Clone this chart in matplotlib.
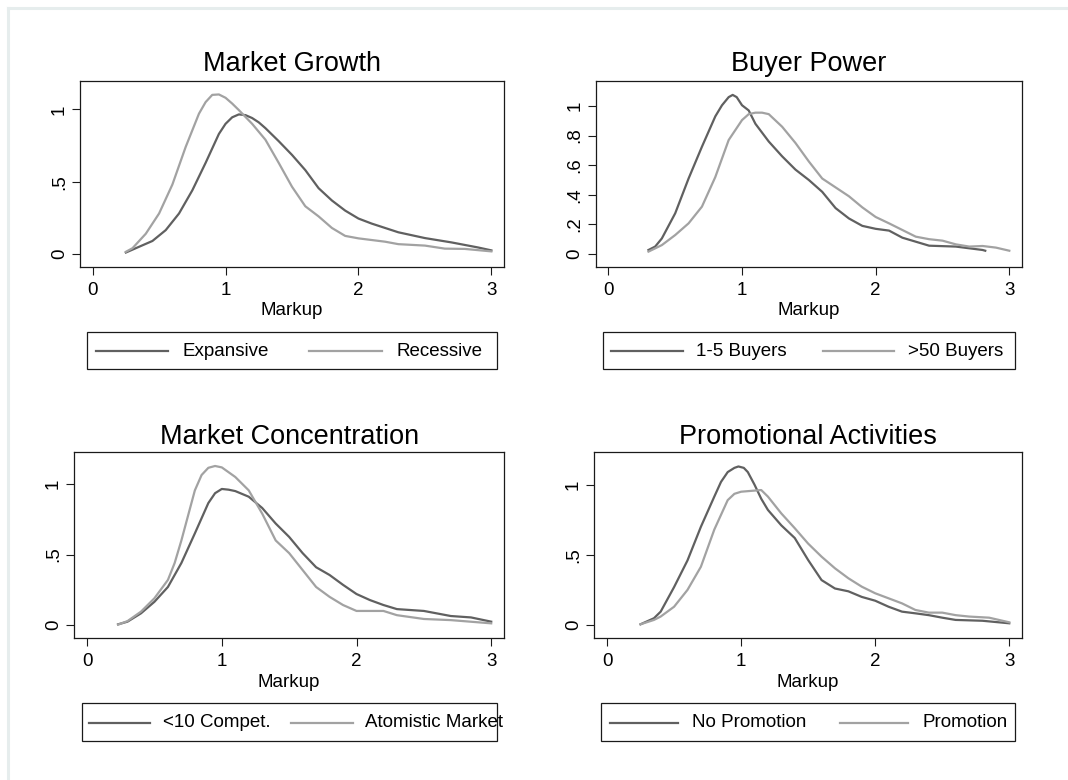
import matplotlib
matplotlib.use('Agg')
import matplotlib.pyplot as plt
from matplotlib.lines import Line2D
from matplotlib.patches import Rectangle

plt.rcParams['font.family'] = ['Liberation Sans', 'DejaVu Sans']

# ---------------------------------------------------------------
# data (kernel densities of markup)
# ---------------------------------------------------------------
# Market Growth
growth_exp_x = [0.25, 0.35, 0.45, 0.55, 0.65, 0.75, 0.85, 0.95, 1.0, 1.05, 1.1, 1.15, 1.2, 1.25, 1.3,
                1.4, 1.5, 1.6, 1.7, 1.8, 1.9, 2.0, 2.1, 2.2, 2.3, 2.5, 2.7, 2.9, 3.0]
growth_exp_y = [0.01, 0.05, 0.09, 0.165, 0.28, 0.44, 0.63, 0.83, 0.90, 0.945, 0.965, 0.96, 0.94, 0.91, 0.87,
                0.78, 0.685, 0.58, 0.455, 0.37, 0.30, 0.245, 0.21, 0.18, 0.15, 0.11, 0.08, 0.045, 0.025]
growth_rec_x = [0.25, 0.3, 0.4, 0.5, 0.6, 0.7, 0.8, 0.85, 0.9, 0.95, 1.0, 1.05, 1.1, 1.2, 1.3,
                1.4, 1.5, 1.6, 1.7, 1.8, 1.9, 2.0, 2.2, 2.3, 2.5, 2.65, 2.8, 3.0]
growth_rec_y = [0.015, 0.04, 0.14, 0.28, 0.48, 0.74, 0.97, 1.05, 1.10, 1.103, 1.08, 1.04, 0.995, 0.90, 0.79,
                0.63, 0.465, 0.33, 0.26, 0.18, 0.125, 0.108, 0.085, 0.068, 0.058, 0.037, 0.035, 0.018]

# Buyer Power
buyer_few_x = [0.3, 0.35, 0.4, 0.5, 0.6, 0.7, 0.8, 0.85, 0.9, 0.93, 0.96, 1.0, 1.05, 1.1, 1.2, 1.3,
               1.4, 1.5, 1.6, 1.7, 1.8, 1.9, 2.0, 2.1, 2.2, 2.3, 2.4, 2.6, 2.8, 2.82]
buyer_few_y = [0.027, 0.05, 0.105, 0.275, 0.51, 0.725, 0.93, 1.005, 1.06, 1.075, 1.06, 1.005, 0.97, 0.88, 0.76, 0.66,
               0.57, 0.50, 0.42, 0.31, 0.24, 0.19, 0.17, 0.158, 0.11, 0.083, 0.056, 0.05, 0.027, 0.022]
buyer_many_x = [0.3, 0.4, 0.5, 0.6, 0.7, 0.8, 0.9, 1.0, 1.05, 1.1, 1.15, 1.2, 1.3, 1.4, 1.5, 1.6,
                1.7, 1.8, 1.9, 2.0, 2.1, 2.2, 2.3, 2.4, 2.5, 2.6, 2.7, 2.8, 2.9, 3.0]
buyer_many_y = [0.016, 0.06, 0.128, 0.207, 0.32, 0.52, 0.77, 0.905, 0.945, 0.955, 0.955, 0.945, 0.86, 0.75, 0.625, 0.51,
                0.45, 0.39, 0.315, 0.25, 0.207, 0.162, 0.117, 0.10, 0.09, 0.065, 0.05, 0.054, 0.043, 0.022]

# Market Concentration
conc_few_x = [0.23, 0.3, 0.4, 0.5, 0.6, 0.7, 0.8, 0.9, 0.95, 1.0, 1.05, 1.1, 1.2, 1.3, 1.4, 1.5,
              1.6, 1.7, 1.8, 1.9, 2.0, 2.1, 2.2, 2.3, 2.5, 2.7, 2.85, 3.0]
conc_few_y = [0.005, 0.024, 0.083, 0.165, 0.27, 0.44, 0.65, 0.865, 0.935, 0.965, 0.96, 0.95, 0.91, 0.83, 0.72, 0.625,
              0.51, 0.41, 0.355, 0.285, 0.22, 0.177, 0.142, 0.113, 0.10, 0.064, 0.054, 0.024]
conc_atom_x = [0.23, 0.3, 0.4, 0.5, 0.6, 0.65, 0.7, 0.8, 0.85, 0.9, 0.95, 1.0, 1.1, 1.2, 1.3, 1.4,
               1.5, 1.6, 1.7, 1.8, 1.9, 2.0, 2.2, 2.3, 2.5, 2.7, 3.0]
conc_atom_y = [0.003, 0.028, 0.095, 0.19, 0.32, 0.44, 0.60, 0.955, 1.064, 1.115, 1.128, 1.118, 1.05, 0.955, 0.79, 0.60,
               0.51, 0.39, 0.27, 0.20, 0.142, 0.10, 0.10, 0.07, 0.043, 0.035, 0.012]

# Promotional Activities
promo_no_x = [0.25, 0.35, 0.4, 0.5, 0.6, 0.7, 0.8, 0.85, 0.9, 0.95, 0.98, 1.02, 1.05, 1.1, 1.15, 1.2,
              1.3, 1.4, 1.5, 1.6, 1.7, 1.8, 1.9, 2.0, 2.1, 2.2, 2.3, 2.4, 2.5, 2.6, 2.8, 3.0]
promo_no_y = [0.005, 0.048, 0.095, 0.27, 0.46, 0.70, 0.915, 1.02, 1.09, 1.12, 1.13, 1.12, 1.09, 1.0, 0.9, 0.82,
              0.71, 0.62, 0.463, 0.32, 0.26, 0.24, 0.20, 0.173, 0.13, 0.095, 0.083, 0.07, 0.052, 0.036, 0.03, 0.012]
promo_yes_x = [0.25, 0.35, 0.4, 0.5, 0.6, 0.7, 0.8, 0.9, 0.95, 1.0, 1.1, 1.15, 1.2, 1.3, 1.4, 1.5,
               1.6, 1.7, 1.8, 1.9, 2.0, 2.1, 2.2, 2.3, 2.4, 2.5, 2.6, 2.7, 2.85, 3.0]
promo_yes_y = [0.005, 0.036, 0.06, 0.13, 0.25, 0.415, 0.68, 0.89, 0.935, 0.95, 0.958, 0.962, 0.915, 0.795, 0.69, 0.58,
               0.487, 0.404, 0.333, 0.273, 0.226, 0.19, 0.154, 0.107, 0.088, 0.088, 0.07, 0.06, 0.052, 0.019]

titles = ['Market Growth', 'Buyer Power', 'Market Concentration', 'Promotional Activities']
legend_labels = [('Expansive', 'Recessive'), ('1-5 Buyers', '>50 Buyers'),
                 ('<10 Compet.', 'Atomistic Market'), ('No Promotion', 'Promotion')]
x_ticks = [0, 1, 2, 3]
y_ticks_half = [0, 0.5, 1]
y_labels_half = ['0', '.5', '1']
y_ticks_fifth = [0, 0.2, 0.4, 0.6, 0.8, 1]
y_labels_fifth = ['0', '.2', '.4', '.6', '.8', '1']

series = [
    ((growth_exp_x, growth_exp_y), (growth_rec_x, growth_rec_y)),
    ((buyer_few_x, buyer_few_y), (buyer_many_x, buyer_many_y)),
    ((conc_few_x, conc_few_y), (conc_atom_x, conc_atom_y)),
    ((promo_no_x, promo_no_y), (promo_yes_x, promo_yes_y)),
]

# ---------------------------------------------------------------
# layout (pixels, measured on the 1068x780 picture)
# ---------------------------------------------------------------
W, H = 1068, 780
DARK = '#606060'
LIGHT = '#a2a2a2'
BOX = '#1a1a1a'

def fx(px):
    return px / W

def fy(py):
    return 1 - py / H

# axes box: left, top, right, bottom
ax_boxes = [(80, 81, 504, 267), (595.7, 81, 1022, 267),
            (74.3, 452.3, 504, 638.3), (594.3, 452.3, 1022, 638.3)]
y_lims = [(-0.09, 1.196), (-0.088, 1.169), (-0.094, 1.225), (-0.095, 1.231)]
title_base = [71, 71, 444, 444]
xlabel_base = [315, 315, 687, 687]
# legend: box, key segments, text starts, row centre
leg_boxes = [(86.7, 332.3, 497.3, 369), (602.7, 332.3, 1015, 369),
             (81.7, 703.3, 497.3, 740.7), (601, 703.3, 1015, 740.7)]
leg_keys = [((95.7, 167.7), (309, 381.7)), ((611, 682.7), (823.3, 894.3)),
            ((89.3, 150), (291, 352.7)), ((610, 677.7), (840, 908.3))]
leg_text = [(183, 397), (695.7, 908.3), (163.3, 365), (692.3, 922.3)]
leg_row = [351.5, 351.5, 722.5, 722.5]

fig = plt.figure(figsize=(W / 100, H / 100), dpi=100)
fig.patch.set_facecolor('white')

# light outer frame of the graph region
frame_col = '#e6eded'
fig.add_artist(Line2D([fx(8), fx(W)], [fy(8.3), fy(8.3)], color=frame_col, lw=2.2))
fig.add_artist(Line2D([fx(8), fx(8)], [fy(8.3), fy(H)], color=frame_col, lw=2.2))

for i in range(4):
    l, t, r, b = ax_boxes[i]
    ax = fig.add_axes([fx(l), fy(b), fx(r) - fx(l), fy(t) - fy(b)])
    (x1, y1), (x2, y2) = series[i]
    ax.plot(x1, y1, color=DARK, lw=1.6, solid_joinstyle='round')
    ax.plot(x2, y2, color=LIGHT, lw=1.6, solid_joinstyle='round')

    ax.set_xlim(-0.095, 3.095)
    ax.set_ylim(*y_lims[i])
    ax.set_xticks(x_ticks)
    ax.set_xticklabels([str(v) for v in x_ticks])
    if i == 1:
        ax.set_yticks(y_ticks_fifth)
        ax.set_yticklabels(y_labels_fifth)
    else:
        ax.set_yticks(y_ticks_half)
        ax.set_yticklabels(y_labels_half)
    ax.tick_params(direction='out', length=5.8, width=0.8, color=BOX,
                   labelsize=13.5, labelcolor='black')
    ax.tick_params(axis='x', pad=5)
    ax.tick_params(axis='y', pad=3)
    for lab in ax.get_yticklabels():
        lab.set_rotation(90)
        lab.set_va('center')
    for sp in ax.spines.values():
        sp.set_color(BOX)
        sp.set_linewidth(0.9)

    cx = fx((l + r) / 2)
    fig.text(cx, fy(title_base[i]), titles[i], ha='center', va='baseline', fontsize=19.5)
    fig.text(cx, fy(xlabel_base[i]), 'Markup', ha='center', va='baseline', fontsize=13.5)

    # legend
    bl, bt, br, bb = leg_boxes[i]
    fig.add_artist(Rectangle((fx(bl), fy(bb)), fx(br) - fx(bl), fy(bt) - fy(bb),
                             transform=fig.transFigure, fill=False, ec=BOX, lw=0.9))
    for (k0, k1), tx, lab, col in zip(leg_keys[i], leg_text[i], legend_labels[i], (DARK, LIGHT)):
        fig.add_artist(Line2D([fx(k0), fx(k1)], [fy(leg_row[i])] * 2, color=col, lw=1.6))
        fig.text(fx(tx), fy(leg_row[i]), lab, ha='left', va='center', fontsize=13.5)

fig.savefig('out.png', dpi=100)
